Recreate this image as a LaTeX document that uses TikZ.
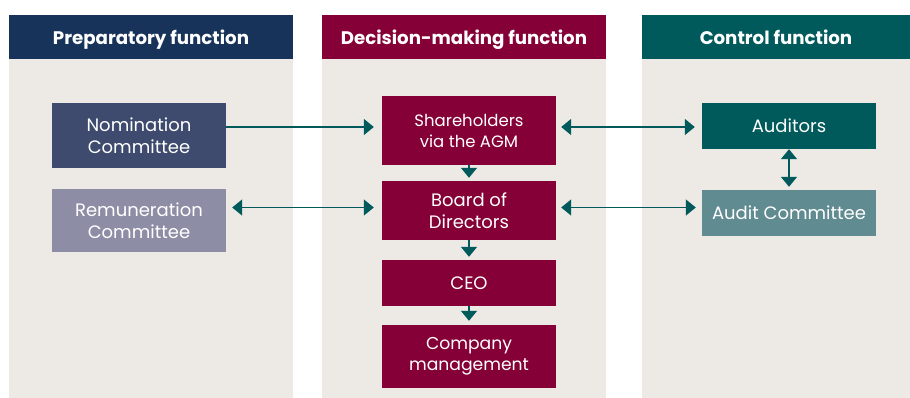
\documentclass[tikz,border=0pt]{standalone}
\usepackage{fontspec}
\setmainfont{Poppins}
\usetikzlibrary{positioning, arrows.meta}
\definecolor{navy}{HTML}{17335A}
\definecolor{maroon}{HTML}{850036}
\definecolor{petrol}{HTML}{005A5C}
\definecolor{panelbg}{HTML}{EDEAE5}
\definecolor{slateblue}{HTML}{3E4B6E}
\definecolor{lilacgrey}{HTML}{8E8DA6}
\definecolor{greyteal}{HTML}{5F8B91}

\begin{document}
\begin{tikzpicture}[x=1pt, y=-1pt,
    panel/.style={fill=panelbg, inner sep=0pt, minimum height=339pt},
    head/.style={inner sep=0pt, minimum height=44pt, text=white, text height=15pt, text depth=0pt, font=\fontsize{18.2}{22}\selectfont\bfseries},
    unit/.style={inner sep=0pt, minimum width=174pt, align=center, text=white, font=\fontsize{18}{22}\selectfont},
    small/.style={font=\fontsize{16.5}{21}\selectfont},
    link/.style={draw=petrol, line width=1.5pt, -{Triangle[length=10pt, width=16pt]}},
    bilink/.style={draw=petrol, line width=1.5pt, {Triangle[length=10pt, width=16pt]}-{Triangle[length=10pt, width=16pt]}}]
    \useasboundingbox (0,0) rectangle (910,398);

    \node[panel, minimum width=284pt] (prepcol) at (151, 228.5) {};
    \node[panel, minimum width=284pt] (deccol) at (464, 228.5) {};
    \node[panel, minimum width=268pt] (ctrlcol) at (776, 228.5) {};

    \node[head, fill=navy, minimum width=284pt] (prephead) at (151, 37) {Preparatory function};
    \node[head, fill=maroon, minimum width=284pt] (dechead) at (464, 37) {Decision-making function};
    \node[head, fill=petrol, minimum width=268pt] (ctrlhead) at (776, 37) {Control function};

    \node[unit, fill=slateblue, minimum height=65pt] (nom) at (139, 135.5) {Nomination\\Committee};
    \node[unit, fill=lilacgrey, minimum height=63pt] (rem) at (139, 220.5) {Remuneration\\Committee};

    \node[unit, small, fill=maroon, minimum height=69pt] (agm) at (469, 130.5) {Shareholders\\via the AGM};
    \node[unit, fill=maroon, minimum height=59pt] (board) at (469, 210.5) {Board of\\Directors};
    \node[unit, fill=maroon, minimum height=46pt] (ceo) at (469, 283) {CEO};
    \node[unit, fill=maroon, minimum height=63pt, font=\fontsize{17.2}{21}\selectfont] (mgmt) at (469, 356.5) {Company\\management};

    \node[unit, fill=petrol, minimum height=46pt] (aud) at (789, 126) {Auditors};
    \node[unit, fill=greyteal, minimum height=46pt] (audcom) at (789, 213) {Audit Committee};

    \coordinate (rowa) at (0, 127);
    \coordinate (rowb) at (0, 207.5);

    \draw[link, shorten >=8pt] (nom.east |- rowa) -- (agm.west |- rowa);
    \draw[bilink, shorten <=6pt, shorten >=8pt] (rem.east |- rowb) -- (board.west |- rowb);
    \draw[bilink, shorten <=5pt, shorten >=7pt] (agm.east |- rowa) -- (aud.west |- rowa);
    \draw[bilink, shorten <=5pt, shorten >=6pt] (board.east |- rowb) -- (audcom.west |- rowb);

    \draw[link, shorten >=3pt] (agm) -- (board);
    \draw[link, shorten >=3pt] (board) -- (ceo);
    \draw[link, shorten >=4pt] (ceo) -- (mgmt);
    \draw[bilink, shorten >=3pt] (aud) -- (audcom);
\end{tikzpicture}
\end{document}
